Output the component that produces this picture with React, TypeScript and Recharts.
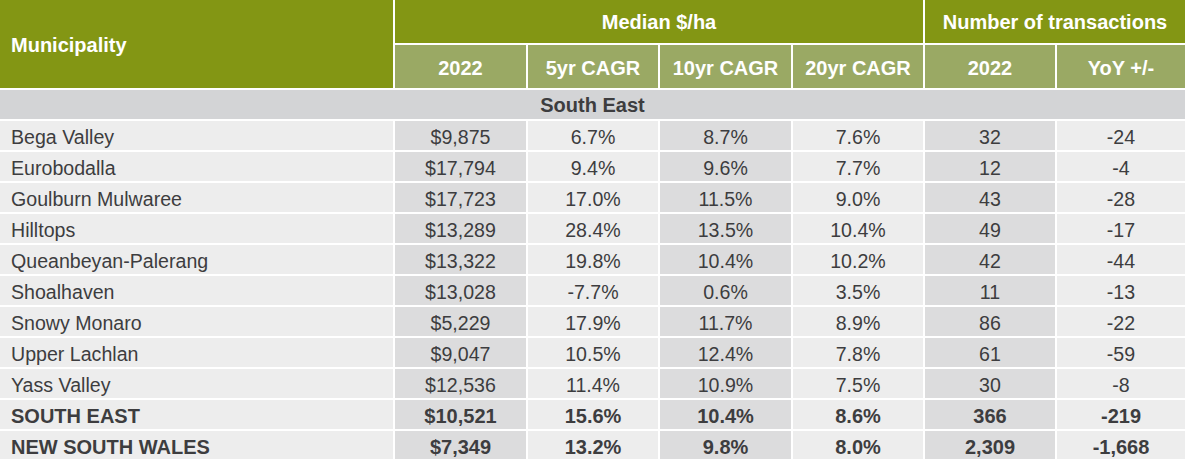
import React from "react";
import { ComposedChart, Customized } from "recharts";

const municipalities = [
  "Bega Valley", "Eurobodalla", "Goulburn Mulwaree", "Hilltops", "Queanbeyan-Palerang",
  "Shoalhaven", "Snowy Monaro", "Upper Lachlan", "Yass Valley", "SOUTH EAST", "NEW SOUTH WALES",
];
const median2022 = ["$9,875", "$17,794", "$17,723", "$13,289", "$13,322", "$13,028", "$5,229", "$9,047", "$12,536", "$10,521", "$7,349"];
const cagr5yr = ["6.7%", "9.4%", "17.0%", "28.4%", "19.8%", "-7.7%", "17.9%", "10.5%", "11.4%", "15.6%", "13.2%"];
const cagr10yr = ["8.7%", "9.6%", "11.5%", "13.5%", "10.4%", "0.6%", "11.7%", "12.4%", "10.9%", "10.4%", "9.8%"];
const cagr20yr = ["7.6%", "7.7%", "9.0%", "10.4%", "10.2%", "3.5%", "8.9%", "7.8%", "7.5%", "8.6%", "8.0%"];
const transactions2022 = ["32", "12", "43", "49", "42", "11", "86", "61", "30", "366", "2,309"];
const transactionsYoY = ["-24", "-4", "-28", "-17", "-44", "-13", "-22", "-59", "-8", "-219", "-1,668"];
const boldRowCount = 2;

const firstHeader = "Municipality";
const groupHeaders = ["Median $/ha", "Number of transactions"];
const subHeaders = ["2022", "5yr CAGR", "10yr CAGR", "20yr CAGR", "2022", "YoY +/-"];
const sectionTitle = "South East";

const W = 1185;
const H = 459;
const FONT = "'Liberation Sans', Arial, sans-serif";
const DARK_GREEN = "#839614";
const LIGHT_GREEN = "#9aa964";
const SECTION_GRAY = "#d3d4d6";
const LIGHT_CELL = "#ededed";
const DARK_CELL = "#dcdcdd";
const TEXT = "#3d3d3f";
const HEAD_FS = 20;
const BODY_FS = 19.6;

const colEdges = [0, 393, 395, 526, 528, 658, 660, 791, 793, 923, 925, 1055, 1057, 1185];
const colX = (i: number) => colEdges[i * 2];
const colR = (i: number) => colEdges[i * 2 + 1];

const Table = () => {
  const rows = municipalities.map((m, i) => [m, median2022[i], cagr5yr[i], cagr10yr[i], cagr20yr[i], transactions2022[i], transactionsYoY[i]]);
  const els: React.ReactNode[] = [];
  els.push(<rect key="bg" x={0} y={0} width={W} height={H} fill="#ffffff" />);
  els.push(<rect key="h0" x={0} y={0} width={colR(0)} height={88} fill={DARK_GREEN} />);
  els.push(<text key="h0t" x={11} y={45} dy="0.35em" fill="#fff" fontWeight="bold" fontSize={HEAD_FS} fontFamily={FONT}>{firstHeader}</text>);
  els.push(<rect key="g1" x={colX(1)} y={0} width={colR(4) - colX(1)} height={43} fill={DARK_GREEN} />);
  els.push(<text key="g1t" x={(colX(1) + colR(4)) / 2} y={22} dy="0.35em" textAnchor="middle" fill="#fff" fontWeight="bold" fontSize={HEAD_FS} fontFamily={FONT}>{groupHeaders[0]}</text>);
  els.push(<rect key="g2" x={colX(5)} y={0} width={colR(6) - colX(5)} height={43} fill={DARK_GREEN} />);
  els.push(<text key="g2t" x={(colX(5) + colR(6)) / 2} y={22} dy="0.35em" textAnchor="middle" fill="#fff" fontWeight="bold" fontSize={HEAD_FS} fontFamily={FONT}>{groupHeaders[1]}</text>);
  subHeaders.forEach((s, i) => {
    const c = i + 1;
    els.push(<rect key={"s" + i} x={colX(c)} y={45} width={colR(c) - colX(c)} height={43} fill={LIGHT_GREEN} />);
    els.push(<text key={"st" + i} x={(colX(c) + colR(c)) / 2} y={67.5} dy="0.35em" textAnchor="middle" fill="#fff" fontWeight="bold" fontSize={HEAD_FS} fontFamily={FONT}>{s}</text>);
  });
  els.push(<rect key="sec" x={0} y={90} width={W} height={29} fill={SECTION_GRAY} />);
  els.push(<text key="sect" x={W / 2} y={105} dy="0.35em" textAnchor="middle" fill={TEXT} fontWeight="bold" fontSize={HEAD_FS} fontFamily={FONT}>{sectionTitle}</text>);
  rows.forEach((r, ri) => {
    const top = 121 + ri * 31;
    const bold = ri >= rows.length - boldRowCount;
    r.forEach((v, ci) => {
      const fill = ci % 2 === 1 ? DARK_CELL : LIGHT_CELL;
      els.push(<rect key={`c${ri}-${ci}`} x={colX(ci)} y={top} width={colR(ci) - colX(ci)} height={29} fill={fill} />);
      const tx = ci === 0 ? 11 : (colX(ci) + colR(ci)) / 2;
      els.push(
        <text key={`t${ri}-${ci}`} x={tx} y={top + 16} dy="0.35em" textAnchor={ci === 0 ? "start" : "middle"} fill={TEXT} fontWeight={bold ? "bold" : "normal"} fontSize={bold ? HEAD_FS : BODY_FS} fontFamily={FONT}>
          {v}
        </text>
      );
    });
  });
  return <g>{els}</g>;
};

export default function App() {
  return (
    <div style={{ width: W, height: H }}>
      <style>{`body{margin:0;}`}</style>
      <ComposedChart width={W} height={H} data={municipalities.map((m) => ({ m }))} margin={{ top: 0, right: 0, bottom: 0, left: 0 }}>
        <Customized component={Table} />
      </ComposedChart>
    </div>
  );
}
